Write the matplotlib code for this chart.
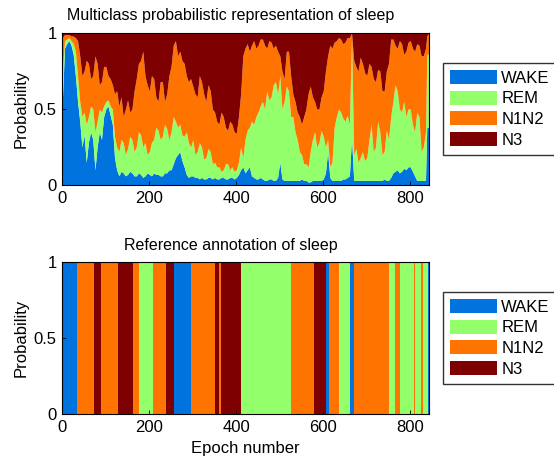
import matplotlib
matplotlib.use("Agg")
import matplotlib.pyplot as plt
from matplotlib.patches import Patch
import numpy as np

plt.rcParams['font.family'] = ['Liberation Sans', 'DejaVu Sans']

stages = ["WAKE", "REM", "N1N2", "N3"]
colors = ["#0073DF", "#93FF6A", "#FF7300", "#7F0000"]

# top panel: cumulative probability boundaries (every 5 epochs)
epochs = list(range(0, 840, 5)) + [838, 842]
wake_top = [0.55, 0.90, 0.93, 0.95, 0.92, 0.86, 0.72, 0.55, 0.42, 0.25,
            0.33, 0.15, 0.28, 0.35, 0.30, 0.10, 0.25, 0.35, 0.30, 0.45,
            0.50, 0.52, 0.46, 0.40, 0.18, 0.10, 0.06, 0.09, 0.08, 0.06,
            0.07, 0.09, 0.08, 0.06, 0.06, 0.08, 0.07, 0.05, 0.06, 0.08,
            0.07, 0.06, 0.08, 0.07, 0.07, 0.06, 0.06, 0.08, 0.08, 0.10,
            0.10, 0.14, 0.18, 0.20, 0.22, 0.16, 0.12, 0.07, 0.05, 0.06,
            0.06, 0.05, 0.05, 0.04, 0.05, 0.04, 0.04, 0.05, 0.05, 0.04,
            0.05, 0.04, 0.04, 0.05, 0.05, 0.04, 0.04, 0.05, 0.05, 0.04,
            0.05, 0.07, 0.10, 0.12, 0.08, 0.10, 0.12, 0.06, 0.05, 0.04,
            0.04, 0.05, 0.04, 0.03, 0.03, 0.04, 0.04, 0.03, 0.03, 0.05,
            0.15, 0.04, 0.03, 0.03, 0.03, 0.03, 0.03, 0.03, 0.03, 0.03,
            0.04, 0.03, 0.03, 0.02, 0.02, 0.03, 0.03, 0.03, 0.03, 0.03,
            0.04, 0.08, 0.22, 0.05, 0.03, 0.03, 0.03, 0.03, 0.03, 0.04,
            0.04, 0.05, 0.06, 0.31, 0.03, 0.03, 0.03, 0.03, 0.03, 0.03,
            0.03, 0.03, 0.03, 0.03, 0.03, 0.03, 0.03, 0.03, 0.04, 0.03,
            0.03, 0.05, 0.08, 0.09, 0.10, 0.08, 0.09, 0.11, 0.10, 0.12,
            0.12, 0.09, 0.06, 0.03, 0.03, 0.03, 0.03, 0.03,
            0.38, 0.38]
rem_top = [0.75, 0.95, 0.96, 0.97, 0.95, 0.93, 0.88, 0.72, 0.55, 0.45,
           0.48, 0.40, 0.45, 0.52, 0.50, 0.35, 0.42, 0.50, 0.48, 0.52,
           0.55, 0.56, 0.52, 0.50, 0.32, 0.25, 0.22, 0.30, 0.28, 0.20,
           0.24, 0.32, 0.30, 0.22, 0.25, 0.35, 0.33, 0.25, 0.28, 0.20,
           0.22, 0.28, 0.30, 0.38, 0.36, 0.30, 0.32, 0.40, 0.37, 0.30,
           0.35, 0.45, 0.42, 0.38, 0.40, 0.33, 0.32, 0.35, 0.28, 0.25,
           0.30, 0.20, 0.22, 0.28, 0.25, 0.17, 0.18, 0.24, 0.22, 0.14,
           0.15, 0.12, 0.12, 0.09, 0.10, 0.14, 0.14, 0.10, 0.12, 0.09,
           0.10, 0.15, 0.25, 0.18, 0.30, 0.36, 0.38, 0.42, 0.40, 0.45,
           0.48, 0.52, 0.55, 0.50, 0.62, 0.56, 0.58, 0.66, 0.68, 0.60,
           0.72, 0.50, 0.55, 0.65, 0.62, 0.45, 0.45, 0.35, 0.30, 0.22,
           0.20, 0.14, 0.14, 0.12, 0.22, 0.30, 0.35, 0.25, 0.28, 0.36,
           0.32, 0.25, 0.30, 0.12, 0.15, 0.38, 0.45, 0.50, 0.48, 0.44,
           0.42, 0.46, 0.40, 0.97, 0.20, 0.24, 0.15, 0.18, 0.22, 0.16,
           0.18, 0.30, 0.40, 0.22, 0.25, 0.42, 0.35, 0.20, 0.22, 0.36,
           0.30, 0.45, 0.55, 0.66, 0.62, 0.50, 0.48, 0.55, 0.45, 0.50,
           0.50, 0.40, 0.35, 0.48, 0.45, 0.22, 0.25, 0.35,
           0.86, 0.86]
n1n2_top = [0.97, 0.99, 0.99, 0.99, 0.98, 0.98, 0.97, 0.95, 0.85, 0.72,
            0.75, 0.82, 0.80, 0.70, 0.72, 0.85, 0.80, 0.66, 0.68, 0.78,
            0.78, 0.72, 0.70, 0.66, 0.60, 0.62, 0.52, 0.58, 0.45, 0.50,
            0.56, 0.48, 0.50, 0.62, 0.70, 0.80, 0.82, 0.88, 0.72, 0.66,
            0.62, 0.72, 0.70, 0.58, 0.55, 0.68, 0.68, 0.55, 0.60, 0.72,
            0.78, 0.92, 0.95, 0.85, 0.88, 0.82, 0.80, 0.72, 0.68, 0.70,
            0.65, 0.60, 0.58, 0.72, 0.68, 0.60, 0.55, 0.66, 0.62, 0.50,
            0.48, 0.42, 0.40, 0.48, 0.45, 0.38, 0.36, 0.42, 0.40, 0.35,
            0.34, 0.45, 0.60, 0.85, 0.90, 0.93, 0.88, 0.92, 0.95, 0.90,
            0.92, 0.96, 0.96, 0.92, 0.90, 0.95, 0.94, 0.90, 0.92, 0.88,
            0.85, 0.75, 0.70, 0.88, 0.88, 0.72, 0.60, 0.55, 0.48, 0.45,
            0.40, 0.45, 0.50, 0.60, 0.65, 0.58, 0.55, 0.50, 0.50, 0.58,
            0.62, 0.75, 0.85, 0.92, 0.90, 0.94, 0.95, 0.97, 0.96, 0.93,
            0.94, 0.97, 0.97, 1.00, 0.82, 0.78, 0.75, 0.84, 0.80, 0.74,
            0.72, 0.80, 0.78, 0.70, 0.68, 0.76, 0.75, 0.62, 0.62, 0.75,
            0.80, 0.96, 0.96, 0.92, 0.90, 0.95, 0.93, 0.86, 0.88, 0.94,
            0.95, 0.90, 0.88, 0.93, 0.92, 0.85, 0.85, 0.90,
            0.98, 1.00]

# bottom panel: reference hypnogram segments (start epoch, stage index)
seg_start = [0, 34, 72, 88, 127, 163, 176, 208, 238, 256, 297, 352, 361, 364, 410,
             526, 578, 607, 614, 637, 662, 671, 752, 766, 777, 808, 812, 825, 829, 840]
seg_stage = [0, 2, 3, 2, 3, 2, 1, 2, 3, 0, 2, 3, 2, 3, 1,
             2, 3, 0, 2, 1, 0, 2, 1, 2, 1, 2, 1, 2, 1, 0]
n_epochs = 842

assert len(epochs) == len(wake_top) == len(rem_top) == len(n1n2_top)

fig = plt.figure(figsize=(5.54, 4.62), dpi=100)
ax1 = fig.add_axes([0.1125, 0.5996, 0.661, 0.329])
ax2 = fig.add_axes([0.1125, 0.1039, 0.661, 0.329])

x = np.array(epochs)
bounds = [np.zeros(len(x)), np.array(wake_top), np.array(rem_top),
          np.array(n1n2_top), np.ones(len(x))]
for k in range(4):
    ax1.fill_between(x, bounds[k], bounds[k + 1], color=colors[k], linewidth=0)

ends = seg_start[1:] + [n_epochs]
for s, e, st in zip(seg_start, ends, seg_stage):
    ax2.fill_between([s, e], 0, 1, color=colors[st], linewidth=0)

handles = [Patch(facecolor=c, edgecolor='none', label=s) for s, c in zip(stages, colors)]
for ax, title in [(ax1, "Multiclass probabilistic representation of sleep"),
                  (ax2, "Reference annotation of sleep")]:
    ax.set_xlim(0, n_epochs)
    ax.set_ylim(0, 1)
    ax.set_xticks([0, 200, 400, 600, 800])
    ax.set_yticks([0, 0.5, 1])
    ax.set_yticklabels(["0", "0.5", "1"])
    ax.tick_params(direction='in', labelsize=12, length=3, width=0.6, pad=4)
    ax.set_ylabel("Probability", fontsize=12, labelpad=4)
    ax.set_title(title, fontsize=11.5, pad=9, x=0.46)
    for sp in ax.spines.values():
        sp.set_linewidth(0.8)
    leg = ax.legend(handles=handles, loc='center left', bbox_to_anchor=(1.039, 0.5),
                    fontsize=12, frameon=True, fancybox=False, handlelength=2.8,
                    handleheight=0.9, borderpad=0.45, labelspacing=0.3,
                    handletextpad=0.25, borderaxespad=0)
    leg.get_frame().set_edgecolor('black')
    leg.get_frame().set_linewidth(1.0)
ax2.set_xlabel("Epoch number", fontsize=12, labelpad=5)

fig.savefig("out.png", dpi=100)
